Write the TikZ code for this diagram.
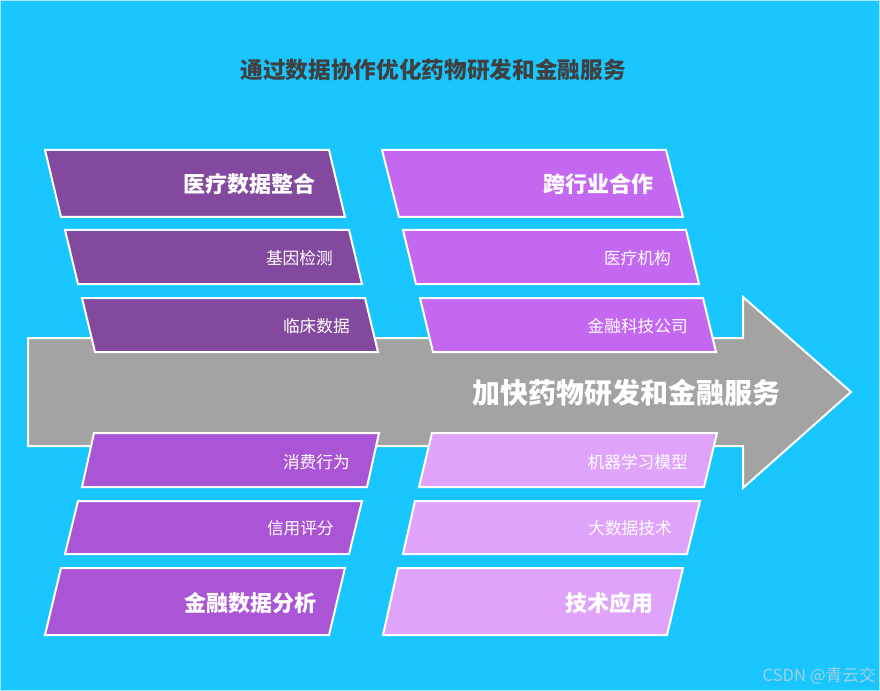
\documentclass[tikz,border=0pt]{standalone}
\usepackage{fontspec}
\setmainfont{Noto Sans CJK SC}
\usetikzlibrary{positioning}
\definecolor{skyback}{HTML}{1AC6FF}
\definecolor{titlegray}{HTML}{404040}
\definecolor{shaftgray}{HTML}{A3A3A3}
\definecolor{medpurple}{HTML}{83499E}
\definecolor{corpviolet}{HTML}{C468F2}
\definecolor{finpurple}{HTML}{AA55D6}
\definecolor{techlilac}{HTML}{E0A3FC}
\definecolor{markgray}{HTML}{A3CEDE}

\begin{document}
\begin{tikzpicture}[x=0.75pt, y=-0.75pt,
    band/.style={draw=white, line width=1.5pt, line join=miter},
    bigtag/.style={anchor=east, inner sep=0pt, text=white, font=\fontsize{16.5}{18}\selectfont\bfseries},
    smalltag/.style={anchor=east, inner sep=0pt, text=white, font=\fontsize{12.5}{14}\selectfont}]
  % Background
  \fill[skyback, draw=white!60!skyback, line width=0.75pt] (0.5,0.5) rectangle (879.5,690.5);
  \useasboundingbox (0,0) rectangle (880,691);
  % Title
  \node[text=titlegray, font=\fontsize{17}{19}\selectfont\bfseries] (title) at (433,70) {通过数据协作优化药物研发和金融服务};
  % Arrow
  \filldraw[band, fill=shaftgray] (28,338) -- (743,338) -- (743,297) -- (851,392)
    -- (743,488) -- (743,446) -- (28,446) -- cycle;
  \node[anchor=east, inner sep=0pt, text=white, font=\fontsize{21}{24}\selectfont\bfseries] (goal) at (781,393) {加快药物研发和金融服务};
  % Upper left: medical data
  \filldraw[band, fill=medpurple] (45,150) -- (329,150) -- (345,217) -- (61,217) -- cycle;
  \filldraw[band, fill=medpurple] (65,230) -- (349,230) -- (362,284) -- (78,284) -- cycle;
  \filldraw[band, fill=medpurple] (82,298) -- (365,298) -- (378,352) -- (95,352) -- cycle;
  \node[bigtag] (meddata) at (316,184) {医疗数据整合};
  \node[smalltag] (gene) at (333,258) {基因检测};
  \node[smalltag] (clinic) at (350,326) {临床数据};
  % Upper right: cross-industry
  \filldraw[band, fill=corpviolet] (382,150) -- (666,150) -- (683,217) -- (399,217) -- cycle;
  \filldraw[band, fill=corpviolet] (403,230) -- (686,230) -- (699,284) -- (416,284) -- cycle;
  \filldraw[band, fill=corpviolet] (420,298) -- (703,298) -- (716,352) -- (433,352) -- cycle;
  \node[bigtag] (crossind) at (654,184) {跨行业合作};
  \node[smalltag] (hospital) at (671,258) {医疗机构};
  \node[smalltag] (fintech) at (688,326) {金融科技公司};
  % Lower left: financial data
  \filldraw[band, fill=finpurple] (94,433) -- (379,433) -- (367,487) -- (82,487) -- cycle;
  \filldraw[band, fill=finpurple] (78,501) -- (362,501) -- (349,554) -- (65,554) -- cycle;
  \filldraw[band, fill=finpurple] (61,568) -- (345,568) -- (329,635) -- (45,635) -- cycle;
  \node[smalltag] (consume) at (350,462) {消费行为};
  \node[smalltag] (credit) at (334,528) {信用评分};
  \node[bigtag] (findata) at (317,603) {金融数据分析};
  % Lower right: technology
  \filldraw[band, fill=techlilac] (432,433) -- (717,433) -- (704,487) -- (419,487) -- cycle;
  \filldraw[band, fill=techlilac] (415,501) -- (700,501) -- (687,554) -- (403,554) -- cycle;
  \filldraw[band, fill=techlilac] (398,568) -- (683,568) -- (667,635) -- (383,635) -- cycle;
  \node[smalltag] (mlmodel) at (688,462) {机器学习模型};
  \node[smalltag] (bigdata) at (672,528) {大数据技术};
  \node[bigtag] (techuse) at (654,603) {技术应用};
  % Watermark
  \node[anchor=east, inner sep=0pt, text=markgray, font=\fontsize{12.5}{14}\selectfont] (mark) at (876,676) {CSDN @青云交};
\end{tikzpicture}
\end{document}
